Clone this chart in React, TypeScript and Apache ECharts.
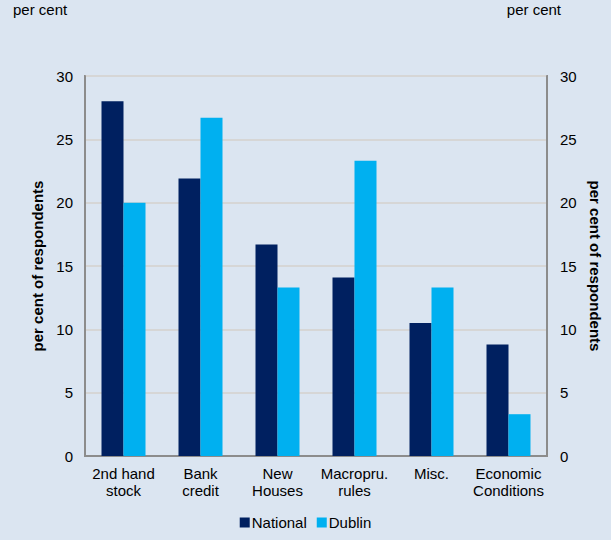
import React, { useEffect, useRef } from "react";
import * as echarts from "echarts";

const categories = ["2nd hand\nstock", "Bank\ncredit", "New\nHouses", "Macropru.\nrules", "Misc.", "Economic\nConditions"];
const national = [28.0, 21.9, 16.7, 14.1, 10.5, 8.8];
const dublin = [20.0, 26.7, 13.3, 23.3, 13.3, 3.3];
const seriesNames = ["National", "Dublin"];
const axisTitle = "per cent of respondents";
const unitLabel = "per cent";

export default function App() {
  const ref = useRef<HTMLDivElement>(null);
  useEffect(() => {
    if (!ref.current) return;
    const chart = echarts.init(ref.current, null, { renderer: "svg" });
    const font = "Liberation Sans, Arial, sans-serif";
    const yCommon = {
      type: "value" as const,
      min: 0,
      max: 30,
      interval: 5,
      nameLocation: "middle" as const,
      nameTextStyle: { fontFamily: font, fontSize: 15, fontWeight: "bold" as const, color: "#000" },
      axisLine: { show: true, lineStyle: { color: "#8c8c8c", width: 2 } },
      axisTick: { show: false },
    };
    chart.setOption({
      animation: false,
      backgroundColor: "#dbe5f1",
      textStyle: { fontFamily: font },
      grid: {
        left: 85, right: 63, top: 76, bottom: 84,
        show: true, borderColor: "#8c8c8c", borderWidth: 2, backgroundColor: "transparent",
      },
      graphic: [
        { type: "text", left: 13, top: 2, style: { text: unitLabel, font: `15px ${font}`, fill: "#000" } },
        { type: "text", right: 50, top: 2, style: { text: unitLabel, font: `15px ${font}`, fill: "#000" } },
      ],
      legend: {
        bottom: 5,
        left: "center",
        itemWidth: 10,
        itemGap: 10,
        itemHeight: 10,
        icon: "rect",
        textStyle: { fontFamily: font, fontSize: 15, color: "#000", padding: [0, 0, 0, -3] },
        data: seriesNames,
      },
      xAxis: {
        type: "category",
        data: categories,
        axisLine: { show: true, lineStyle: { color: "#8c8c8c", width: 2 } },
        axisTick: { show: false },
        axisLabel: { fontFamily: font, fontSize: 15, color: "#000", lineHeight: 17, margin: 9, interval: 0 },
        splitLine: { show: false },
      },
      yAxis: [
        {
          ...yCommon,
          position: "left",
          name: axisTitle,
          nameRotate: 90,
          nameGap: 39,
          axisLabel: { fontFamily: font, fontSize: 15, color: "#000", margin: 12 },
          splitLine: { show: true, lineStyle: { color: "#d6d6d6", width: 2 } },
        },
        {
          ...yCommon,
          position: "right",
          name: axisTitle,
          nameRotate: -90,
          nameGap: 41,
          axisLabel: { fontFamily: font, fontSize: 15, color: "#000", margin: 13 },
          splitLine: { show: false },
        },
      ],
      series: [
        {
          name: seriesNames[0],
          type: "bar",
          data: national,
          barWidth: 22,
          barGap: "0%",
          itemStyle: { color: "#002060" },
        },
        {
          name: seriesNames[1],
          type: "bar",
          data: dublin,
          barWidth: 22,
          barGap: "0%",
          itemStyle: { color: "#00b0f0" },
        },
      ],
    });
    return () => chart.dispose();
  }, []);
  return <div ref={ref} style={{ width: 611, height: 540, position: "absolute", left: 0, top: 0 }} />;
}
